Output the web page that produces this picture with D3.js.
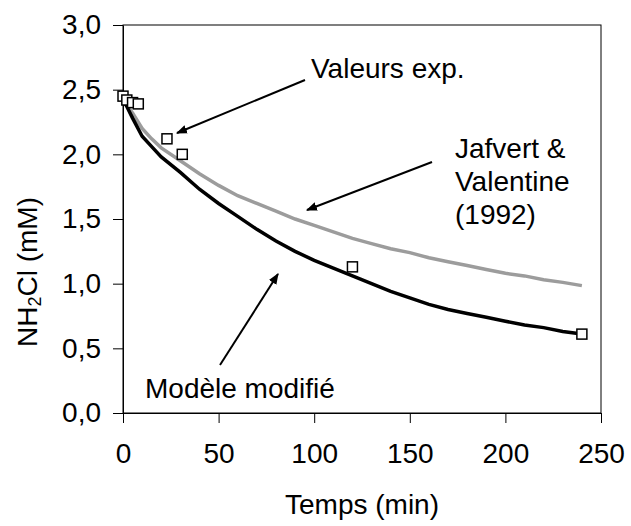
<!DOCTYPE html>
<html>
<head>
<meta charset="utf-8">
<script src="https://cdn.jsdelivr.net/npm/d3@7"></script>
<style>
  body { margin: 0; background: #fff; }
  svg text { font-family: "Liberation Sans", Arial, sans-serif; fill: #000; }
</style>
</head>
<body>
<div id="chart"></div>
<script>
// experimental points (time in min, NH2Cl in mM)
const expTime = [0, 2, 5, 8, 23, 31, 120, 240];
const expValue = [2.45, 2.42, 2.40, 2.39, 2.12, 2.00, 1.13, 0.61];

// model curves
const modelTime = [0, 2, 5, 10, 15, 20, 30, 40, 50, 60, 70, 80, 90, 100, 110, 120, 130, 140, 150, 160, 170, 180, 190, 200, 210, 220, 230, 240];
const modifiedModel = [2.42, 2.37, 2.28, 2.14, 2.06, 1.98, 1.86, 1.73, 1.62, 1.52, 1.42, 1.33, 1.25, 1.18, 1.12, 1.06, 1.00, 0.94, 0.89, 0.84, 0.80, 0.77, 0.74, 0.71, 0.68, 0.66, 0.63, 0.61];
const jafvertModel = [2.42, 2.38, 2.32, 2.20, 2.12, 2.05, 1.95, 1.85, 1.76, 1.68, 1.62, 1.56, 1.50, 1.45, 1.40, 1.35, 1.31, 1.27, 1.24, 1.20, 1.17, 1.14, 1.11, 1.08, 1.06, 1.03, 1.01, 0.985];

const xTicks = [0, 50, 100, 150, 200, 250];
const yTicks = [0, 0.5, 1, 1.5, 2, 2.5, 3];
const yTickLabels = ["0,0", "0,5", "1,0", "1,5", "2,0", "2,5", "3,0"];

const W = 631, H = 526;
const margin = { top: 25, right: 30, bottom: 113, left: 123 };
const fontSize = "28px";

const svg = d3.select("#chart")
    .append("svg")
    .attr("width", W)
    .attr("height", H);

svg.append("defs").append("marker")
    .attr("id", "arrow")
    .attr("viewBox", "0 0 10 10")
    .attr("refX", 9)
    .attr("refY", 5)
    .attr("markerWidth", 11)
    .attr("markerHeight", 11)
    .attr("markerUnits", "userSpaceOnUse")
    .attr("orient", "auto")
    .append("path")
    .attr("d", "M0,1 L10,5 L0,9 Z")
    .attr("fill", "#000");

const x = d3.scaleLinear().domain([0, 250]).range([margin.left, W - margin.right]);
const y = d3.scaleLinear().domain([0, 3]).range([H - margin.bottom, margin.top]);

// plot frame
svg.append("rect")
    .attr("x", x(0))
    .attr("y", y(3))
    .attr("width", x(250) - x(0))
    .attr("height", y(0) - y(3))
    .attr("fill", "none")
    .attr("stroke", "#000")
    .attr("stroke-width", 1);

const xAxis = svg.append("g")
    .attr("transform", `translate(0,${y(0)})`)
    .call(d3.axisBottom(x).tickValues(xTicks).tickSize(10).tickSizeOuter(0).tickPadding(20));

const yAxis = svg.append("g")
    .attr("transform", `translate(${x(0)},0)`)
    .call(d3.axisLeft(y).tickValues(yTicks).tickSize(10).tickSizeOuter(0).tickPadding(12)
        .tickFormat((d, i) => yTickLabels[i]));

[xAxis, yAxis].forEach(a => {
    a.selectAll("path, line").attr("stroke", "#000").attr("stroke-width", 1);
    a.selectAll("text").style("font-size", fontSize).attr("fill", "#000");
});

// curves
const line = d3.line()
    .x((d, i) => x(modelTime[i]))
    .y(d => y(d));

svg.append("path")
    .datum(jafvertModel)
    .attr("d", line)
    .attr("fill", "none")
    .attr("stroke", "#9c9c9c")
    .attr("stroke-width", 3.5);

svg.append("path")
    .datum(modifiedModel)
    .attr("d", line)
    .attr("fill", "none")
    .attr("stroke", "#000")
    .attr("stroke-width", 3.5);

// experimental squares
svg.selectAll("rect.exp")
    .data(expTime)
    .join("rect")
    .attr("class", "exp")
    .attr("x", d => x(d) - 5)
    .attr("y", (d, i) => y(expValue[i]) - 5)
    .attr("width", 10)
    .attr("height", 10)
    .attr("fill", "#fff")
    .attr("stroke", "#000")
    .attr("stroke-width", 1.5);

// annotations
const arrows = [
    [305, 80, 177, 133],
    [432, 162, 307, 210],
    [220, 365, 278, 274]
];
svg.selectAll("line.arrow")
    .data(arrows)
    .join("line")
    .attr("class", "arrow")
    .attr("x1", d => d[0]).attr("y1", d => d[1])
    .attr("x2", d => d[2]).attr("y2", d => d[3])
    .attr("stroke", "#000")
    .attr("stroke-width", 2)
    .attr("marker-end", "url(#arrow)");

svg.append("text").attr("x", 311).attr("y", 78).style("font-size", fontSize).text("Valeurs exp.");

const jv = svg.append("text").attr("x", 455).attr("y", 158).style("font-size", fontSize);
["Jafvert &", "Valentine", "(1992)"].forEach((t, i) => {
    jv.append("tspan").attr("x", 455).attr("dy", i === 0 ? 0 : 33).text(t);
});

svg.append("text").attr("x", 145).attr("y", 398).style("font-size", fontSize).text("Modèle modifié");

// axis titles
svg.append("text")
    .attr("x", (x(0) + x(250)) / 2)
    .attr("y", 514)
    .attr("text-anchor", "middle")
    .style("font-size", fontSize)
    .text("Temps (min)");

const yt = svg.append("text")
    .attr("transform", "translate(37,272) rotate(-90)")
    .attr("text-anchor", "middle")
    .style("font-size", fontSize);
yt.append("tspan").text("NH");
yt.append("tspan").style("font-size", "18px").attr("dy", 4).text("2");
yt.append("tspan").attr("dy", -4).text("Cl (mM)");
</script>
</body>
</html>
